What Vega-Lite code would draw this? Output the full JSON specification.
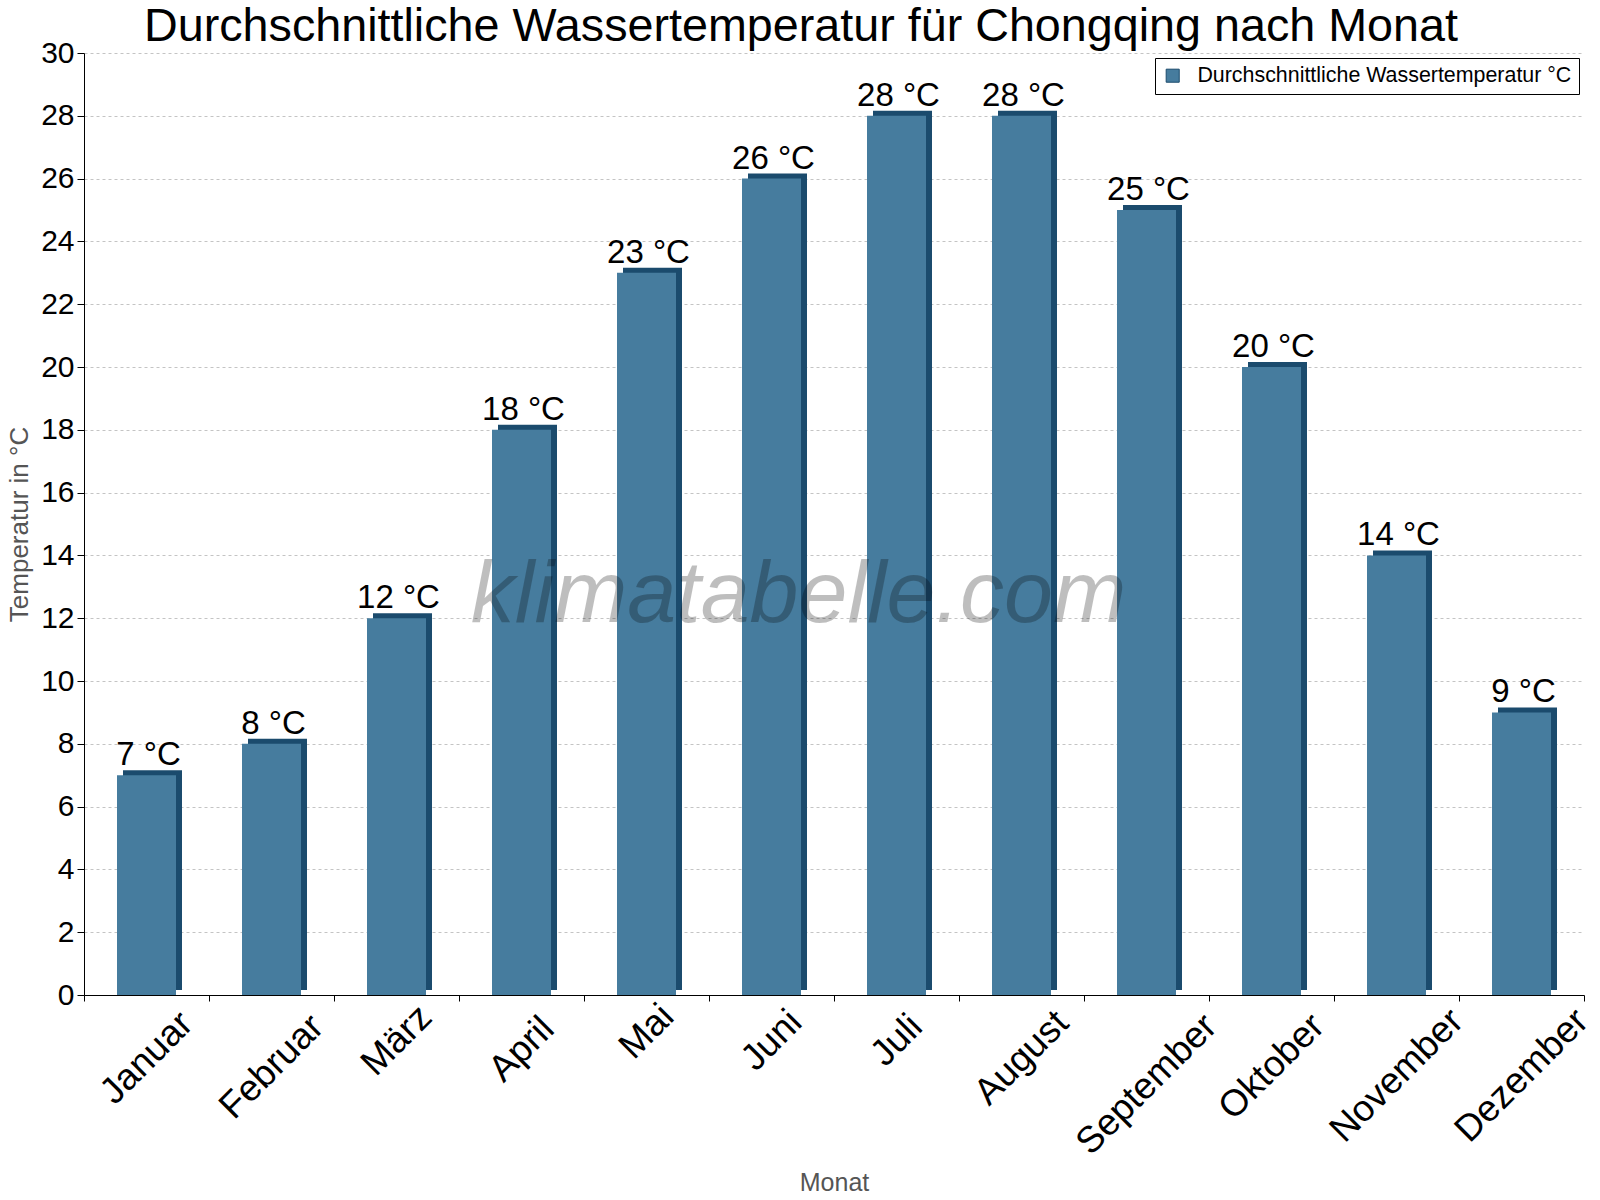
{
  "$schema": "https://vega.github.io/schema/vega-lite/v6.json",
  "width": 1500,
  "height": 942,
  "autosize": {"type": "none"},
  "padding": {"left": 84, "top": 53, "right": 16, "bottom": 205},
  "background": "white",
  "config": {
    "font": "Liberation Sans",
    "view": {"stroke": null},
    "axis": {"labelFont": "Liberation Sans", "titleFont": "Liberation Sans"},
    "legend": {"labelFont": "Liberation Sans"},
    "title": {"font": "Liberation Sans"}
  },
  "title": {
    "text": "Durchschnittliche Wassertemperatur für Chongqing nach Monat",
    "fontSize": 46.7,
    "fontWeight": "normal",
    "color": "black",
    "anchor": "middle",
    "dx": -33,
    "offset": -13
  },
  "data": {
    "values": [
      {"month": "Januar", "temp": 7},
      {"month": "Februar", "temp": 8},
      {"month": "März", "temp": 12},
      {"month": "April", "temp": 18},
      {"month": "Mai", "temp": 23},
      {"month": "Juni", "temp": 26},
      {"month": "Juli", "temp": 28},
      {"month": "August", "temp": 28},
      {"month": "September", "temp": 25},
      {"month": "Oktober", "temp": 20},
      {"month": "November", "temp": 14},
      {"month": "Dezember", "temp": 9}
    ]
  },
  "encoding": {
    "x": {
      "field": "month",
      "type": "nominal",
      "sort": null,
      "title": "Monat",
      "scale": {"paddingInner": 0, "paddingOuter": 0},
      "axis": {
        "labelAngle": -45,
        "labelAlign": "center",
        "labelBaseline": "middle",
        "labelPadding": 0,
        "labelFontSize": 37,
        "labelColor": "black",
        "labelLimit": 0,
        "labelBound": false,
        "labelFlush": false,
        "labelOverlap": false,
        "tickBand": "extent",
        "tickSize": 6,
        "tickColor": "black",
        "domainColor": "black",
        "titleFontSize": 25,
        "titleFontWeight": "normal",
        "titleColor": "#555555",
        "titlePadding": 10,
        "encoding": {
          "labels": {
            "y": {"value": {"expr": "10 + 8.8 * length(datum.label)"}}
          }
        }
      }
    },
    "y": {
      "field": "temp",
      "type": "quantitative",
      "title": "Temperatur in °C",
      "scale": {"domain": [0, 30], "nice": false},
      "axis": {
        "values": [0, 2, 4, 6, 8, 10, 12, 14, 16, 18, 20, 22, 24, 26, 28, 30],
        "labelFontSize": 30,
        "labelColor": "black",
        "labelPadding": 3,
        "tickSize": 7,
        "tickColor": "black",
        "domainColor": "black",
        "grid": true,
        "gridColor": "#c4c4c4",
        "gridDash": [3, 3],
        "titleFontSize": 26,
        "titleFontWeight": "normal",
        "titleColor": "#555555",
        "titlePadding": 8
      }
    }
  },
  "layer": [
    {
      "mark": {"type": "bar", "size": 59, "xOffset": 6, "yOffset": -5, "y2Offset": 5, "color": "#1b4b6d"}
    },
    {
      "mark": {"type": "bar", "size": 59},
      "encoding": {
        "color": {
          "datum": "Durchschnittliche Wassertemperatur °C",
          "type": "nominal",
          "scale": {"range": ["#467c9e"]},
          "legend": {
            "title": null,
            "orient": "top-right",
            "offset": 5,
            "padding": 7,
            "strokeColor": "black",
            "fillColor": "white",
            "labelFontSize": 21.4,
            "labelColor": "black",
            "labelLimit": 0,
            "labelOffset": 14,
            "symbolType": "square",
            "symbolSize": 170,
            "symbolOpacity": 1,
            "symbolStrokeColor": "#1b4b6d",
            "symbolStrokeWidth": 1
          }
        }
      }
    },
    {
      "transform": [{"calculate": "datum.temp + ' °C'", "as": "label"}],
      "mark": {"type": "text", "baseline": "alphabetic", "dy": -10, "dx": 2, "fontSize": 33, "color": "black"},
      "encoding": {"text": {"field": "label"}}
    },
    {
      "transform": [{"filter": "datum.month == 'Juni'"}],
      "mark": {"type": "text", "text": "klimatabelle.com", "fontSize": 88, "fontStyle": "italic", "fill": "black", "opacity": 0.25, "baseline": "middle", "align": "center", "dx": 27},
      "encoding": {
        "y": {"datum": 12.7, "type": "quantitative"}
      }
    }
  ]
}
